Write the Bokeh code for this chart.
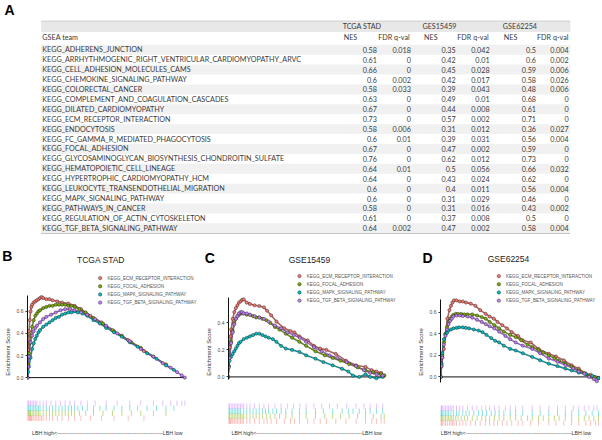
import numpy as np
from bokeh.plotting import figure
from bokeh.models import Range1d, LinearAxis, FixedTicker, PrintfTickFormatter
from bokeh.layouts import column, row
from bokeh.embed import file_html
from bokeh.resources import INLINE
from bokeh.core.properties import value

# ---------------- table data ----------------
pathways = [
    "KEGG_ADHERENS_JUNCTION",
    "KEGG_ARRHYTHMOGENIC_RIGHT_VENTRICULAR_CARDIOMYOPATHY_ARVC",
    "KEGG_CELL_ADHESION_MOLECULES_CAMS",
    "KEGG_CHEMOKINE_SIGNALING_PATHWAY",
    "KEGG_COLORECTAL_CANCER",
    "KEGG_COMPLEMENT_AND_COAGULATION_CASCADES",
    "KEGG_DILATED_CARDIOMYOPATHY",
    "KEGG_ECM_RECEPTOR_INTERACTION",
    "KEGG_ENDOCYTOSIS",
    "KEGG_FC_GAMMA_R_MEDIATED_PHAGOCYTOSIS",
    "KEGG_FOCAL_ADHESION",
    "KEGG_GLYCOSAMINOGLYCAN_BIOSYNTHESIS_CHONDROITIN_SULFATE",
    "KEGG_HEMATOPOIETIC_CELL_LINEAGE",
    "KEGG_HYPERTROPHIC_CARDIOMYOPATHY_HCM",
    "KEGG_LEUKOCYTE_TRANSENDOTHELIAL_MIGRATION",
    "KEGG_MAPK_SIGNALING_PATHWAY",
    "KEGG_PATHWAYS_IN_CANCER",
    "KEGG_REGULATION_OF_ACTIN_CYTOSKELETON",
    "KEGG_TGF_BETA_SIGNALING_PATHWAY",
]
datasets = ["TCGA STAD", "GES15459", "GSE62254"]
tcga_nes = [0.58, 0.61, 0.66, 0.6, 0.58, 0.63, 0.67, 0.73, 0.58, 0.6, 0.67, 0.76, 0.64, 0.64, 0.6, 0.6, 0.58, 0.61, 0.64]
tcga_fdr = [0.018, 0, 0, 0.002, 0.033, 0, 0, 0, 0.006, 0.01, 0, 0, 0.01, 0, 0, 0, 0, 0, 0.002]
g15459_nes = [0.35, 0.42, 0.45, 0.42, 0.39, 0.49, 0.44, 0.57, 0.31, 0.39, 0.47, 0.62, 0.5, 0.43, 0.4, 0.31, 0.31, 0.37, 0.47]
g15459_fdr = [0.042, 0.01, 0.028, 0.017, 0.043, 0.01, 0.008, 0.002, 0.012, 0.031, 0.002, 0.012, 0.056, 0.024, 0.011, 0.029, 0.016, 0.008, 0.002]
g62254_nes = [0.5, 0.6, 0.59, 0.58, 0.48, 0.68, 0.61, 0.71, 0.36, 0.56, 0.59, 0.73, 0.66, 0.62, 0.56, 0.46, 0.43, 0.5, 0.58]
g62254_fdr = [0.004, 0.002, 0.006, 0.026, 0.006, 0, 0, 0, 0.027, 0.004, 0, 0, 0.032, 0, 0.004, 0, 0.002, 0, 0.004]

# ---------------- GSEA running scores (rank fraction, ES) ----------------
gsea_sets = ["KEGG_ECM_RECEPTOR_INTERACTION", "KEGG_FOCAL_ADHESION",
             "KEGG_MAPK_SIGNALING_PATHWAY", "KEGG_TGF_BETA_SIGNALING_PATHWAY"]
panel_titles = ["TCGA STAD", "GSE15459", "GSE62254"]
panel_letters = ["B", "C", "D"]

# TCGA STAD
tcga_ecm_x = [0.0, 0.005, 0.01, 0.015, 0.02, 0.025, 0.03, 0.04, 0.05, 0.06, 0.07, 0.08, 0.09, 0.1, 0.12, 0.14, 0.16, 0.19, 0.22, 0.26, 0.3, 0.34, 0.4, 0.47, 0.55, 0.64, 0.74]
tcga_ecm_y = [0.0, 0.25, 0.42, 0.52, 0.60, 0.64, 0.66, 0.68, 0.69, 0.70, 0.71, 0.72, 0.73, 0.72, 0.71, 0.71, 0.70, 0.69, 0.68, 0.67, 0.65, 0.62, 0.56, 0.50, 0.42, 0.34, 0.24]
tcga_focal_x = [0.0, 0.005, 0.01, 0.015, 0.02, 0.03, 0.04, 0.05, 0.06, 0.07, 0.08, 0.1, 0.12, 0.14, 0.16, 0.18, 0.2, 0.22, 0.24, 0.26, 0.28, 0.3, 0.33, 0.37, 0.42, 0.48, 0.54, 0.6, 0.66, 0.72, 0.8, 0.88]
tcga_focal_y = [0.0, 0.12, 0.22, 0.31, 0.38, 0.46, 0.52, 0.56, 0.58, 0.60, 0.61, 0.63, 0.64, 0.65, 0.65, 0.66, 0.66, 0.66, 0.66, 0.65, 0.65, 0.64, 0.62, 0.59, 0.54, 0.49, 0.43, 0.38, 0.32, 0.27, 0.19, 0.12]
tcga_mapk_x = [0.0, 0.005, 0.01, 0.02, 0.03, 0.04, 0.05, 0.06, 0.07, 0.08, 0.1, 0.12, 0.14, 0.16, 0.18, 0.2, 0.22, 0.24, 0.26, 0.28, 0.3, 0.32, 0.35, 0.38, 0.42, 0.46, 0.5, 0.55, 0.6, 0.65, 0.7, 0.76, 0.82, 0.88, 0.93]
tcga_mapk_y = [0.0, 0.05, 0.10, 0.18, 0.26, 0.31, 0.35, 0.38, 0.41, 0.43, 0.46, 0.48, 0.50, 0.52, 0.54, 0.55, 0.57, 0.58, 0.59, 0.59, 0.60, 0.59, 0.58, 0.56, 0.52, 0.49, 0.45, 0.41, 0.37, 0.32, 0.28, 0.22, 0.17, 0.11, 0.07]
tcga_tgf_x = [0.0, 0.005, 0.01, 0.02, 0.03, 0.04, 0.05, 0.06, 0.08, 0.1, 0.12, 0.15, 0.18, 0.21, 0.24, 0.27, 0.3, 0.34, 0.38, 0.43, 0.5, 0.57, 0.65, 0.72, 0.8, 0.86, 0.91, 0.95, 0.98, 1.0]
tcga_tgf_y = [0.0, 0.10, 0.19, 0.32, 0.38, 0.42, 0.45, 0.47, 0.50, 0.53, 0.55, 0.57, 0.59, 0.61, 0.62, 0.62, 0.61, 0.59, 0.57, 0.53, 0.47, 0.40, 0.33, 0.26, 0.19, 0.13, 0.09, 0.05, 0.02, 0.0]

# GSE15459
g15_ecm_x = [0.0, 0.005, 0.01, 0.015, 0.02, 0.03, 0.04, 0.05, 0.06, 0.07, 0.08, 0.09, 0.1, 0.12, 0.14, 0.17, 0.2, 0.23, 0.25, 0.276, 0.31, 0.36, 0.4, 0.425, 0.457, 0.51, 0.55, 0.59, 0.63, 0.69, 0.755, 0.82, 0.88, 0.92, 0.95, 0.98, 1.0]
g15_ecm_y = [0.0, 0.12, 0.22, 0.30, 0.35, 0.43, 0.48, 0.51, 0.53, 0.55, 0.56, 0.57, 0.575, 0.55, 0.54, 0.53, 0.525, 0.515, 0.49, 0.456, 0.41, 0.36, 0.34, 0.33, 0.30, 0.27, 0.23, 0.21, 0.20, 0.17, 0.12, 0.086, 0.074, 0.05, 0.04, 0.03, 0.01]
g15_focal_x = [0.0, 0.005, 0.01, 0.02, 0.03, 0.04, 0.05, 0.06, 0.07, 0.08, 0.09, 0.1, 0.12, 0.14, 0.16, 0.18, 0.2, 0.22, 0.245, 0.27, 0.3, 0.33, 0.37, 0.41, 0.457, 0.5, 0.56, 0.62, 0.67, 0.72, 0.775, 0.83, 0.88, 0.93, 0.98, 1.0]
g15_focal_y = [0.0, 0.08, 0.15, 0.26, 0.34, 0.40, 0.43, 0.45, 0.46, 0.47, 0.47, 0.47, 0.46, 0.46, 0.45, 0.44, 0.44, 0.43, 0.42, 0.40, 0.37, 0.35, 0.32, 0.29, 0.26, 0.23, 0.19, 0.16, 0.14, 0.12, 0.095, 0.07, 0.05, 0.035, 0.02, 0.01]
g15_mapk_x = [0.0, 0.005, 0.01, 0.02, 0.03, 0.04, 0.05, 0.06, 0.07, 0.08, 0.1, 0.12, 0.14, 0.16, 0.18, 0.2, 0.22, 0.24, 0.26, 0.287, 0.31, 0.34, 0.37, 0.41, 0.457, 0.5, 0.56, 0.61, 0.67, 0.73, 0.77, 0.8, 0.84, 0.88, 0.91, 0.95, 0.99]
g15_mapk_y = [0.0, 0.08, 0.12, 0.15, 0.17, 0.19, 0.21, 0.23, 0.25, 0.26, 0.28, 0.29, 0.30, 0.31, 0.32, 0.32, 0.31, 0.30, 0.29, 0.28, 0.26, 0.23, 0.21, 0.20, 0.185, 0.16, 0.135, 0.11, 0.086, 0.06, 0.04, 0.01, 0.0, 0.02, 0.0, -0.01, 0.0]
g15_tgf_x = [0.0, 0.005, 0.01, 0.02, 0.03, 0.04, 0.05, 0.06, 0.07, 0.08, 0.09, 0.1, 0.12, 0.14, 0.17, 0.2, 0.23, 0.26, 0.3, 0.34, 0.38, 0.42, 0.46, 0.5, 0.55, 0.6, 0.65, 0.7, 0.76, 0.82, 0.87, 0.91, 0.95, 0.99]
g15_tgf_y = [0.0, 0.07, 0.14, 0.25, 0.33, 0.39, 0.43, 0.45, 0.47, 0.48, 0.48, 0.47, 0.47, 0.46, 0.45, 0.44, 0.43, 0.41, 0.38, 0.36, 0.33, 0.31, 0.29, 0.26, 0.22, 0.19, 0.16, 0.14, 0.11, 0.08, 0.05, 0.03, 0.02, 0.01]

# GSE62254
g62_ecm_x = [0.0, 0.005, 0.01, 0.02, 0.03, 0.042, 0.055, 0.065, 0.074, 0.084, 0.1, 0.12, 0.14, 0.16, 0.19, 0.22, 0.25, 0.285, 0.31, 0.337, 0.36, 0.39, 0.42, 0.45, 0.49, 0.52, 0.57, 0.62, 0.685, 0.73, 0.78, 0.83, 0.875, 0.92, 0.95, 0.98, 1.0]
g62_ecm_y = [0.0, 0.1, 0.18, 0.26, 0.40, 0.54, 0.62, 0.66, 0.69, 0.71, 0.71, 0.70, 0.70, 0.69, 0.68, 0.66, 0.62, 0.585, 0.56, 0.54, 0.51, 0.48, 0.45, 0.415, 0.38, 0.34, 0.32, 0.26, 0.215, 0.19, 0.154, 0.108, 0.077, 0.03, 0.02, 0.0, -0.01]
g62_focal_x = [0.0, 0.005, 0.01, 0.02, 0.03, 0.04, 0.05, 0.06, 0.07, 0.08, 0.095, 0.11, 0.13, 0.15, 0.17, 0.2, 0.23, 0.26, 0.285, 0.31, 0.34, 0.37, 0.4, 0.44, 0.475, 0.51, 0.55, 0.58, 0.62, 0.65, 0.685, 0.72, 0.75, 0.79, 0.83, 0.875, 0.91, 0.94, 0.97, 1.0]
g62_focal_y = [0.0, 0.12, 0.2, 0.32, 0.40, 0.46, 0.51, 0.54, 0.56, 0.575, 0.585, 0.585, 0.585, 0.58, 0.58, 0.58, 0.57, 0.555, 0.54, 0.51, 0.48, 0.45, 0.42, 0.39, 0.37, 0.34, 0.30, 0.277, 0.25, 0.225, 0.2, 0.175, 0.15, 0.123, 0.095, 0.06, 0.035, 0.01, 0.0, -0.01]
g62_mapk_x = [0.0, 0.005, 0.01, 0.02, 0.03, 0.04, 0.05, 0.065, 0.08, 0.1, 0.116, 0.14, 0.16, 0.18, 0.21, 0.24, 0.265, 0.29, 0.32, 0.345, 0.37, 0.4, 0.44, 0.475, 0.52, 0.58, 0.63, 0.685, 0.74, 0.79, 0.83, 0.875, 0.92, 0.96, 1.0]
g62_mapk_y = [0.0, 0.12, 0.22, 0.35, 0.39, 0.41, 0.43, 0.44, 0.45, 0.455, 0.46, 0.46, 0.455, 0.45, 0.44, 0.43, 0.415, 0.39, 0.36, 0.335, 0.32, 0.29, 0.26, 0.245, 0.22, 0.185, 0.155, 0.123, 0.1, 0.077, 0.06, 0.04, 0.025, 0.01, -0.01]
g62_tgf_x = [0.0, 0.005, 0.01, 0.02, 0.03, 0.04, 0.05, 0.06, 0.07, 0.08, 0.1, 0.12, 0.14, 0.17, 0.2, 0.23, 0.26, 0.285, 0.31, 0.34, 0.37, 0.41, 0.44, 0.475, 0.52, 0.58, 0.63, 0.685, 0.74, 0.79, 0.84, 0.875, 0.91, 0.94, 0.97, 0.99]
g62_tgf_y = [0.0, 0.1, 0.18, 0.30, 0.38, 0.44, 0.49, 0.52, 0.54, 0.56, 0.57, 0.57, 0.565, 0.56, 0.55, 0.53, 0.51, 0.49, 0.47, 0.45, 0.42, 0.38, 0.35, 0.32, 0.29, 0.26, 0.22, 0.17, 0.14, 0.11, 0.08, 0.05, 0.03, 0.0, -0.02, -0.04]

es_ticks_b = [0.0, 0.2, 0.4, 0.6]
es_ticks_c = [0.0, 0.2, 0.4]
es_ticks_d = [0.0, 0.2, 0.4, 0.6]

# ---------------- styles / layout (reference-pixel geometry) ----------------
HUES = ["#F8766D", "#7CAE00", "#00BFC4", "#C77CFF"]
DARK = ["#9a4a45", "#4f7000", "#00797d", "#8452aa"]
REF_W, REF_H = 602.0, 440.2
PAGE_W, PAGE_H = 600, 438
KX = PAGE_W / REF_W
KY = PAGE_H / REF_H
TOP_H = int(round(266.0 * KY))
BOT_H = PAGE_H - TOP_H
REF_SPLIT = TOP_H / KY
PANEL_W = [202, 198, 200]
SANS = "Liberation Sans"


def fmt(v):
    return f"{v:g}"


# ---------------- top figure: table (A) + panel headers ----------------
tab = figure(width=PAGE_W, height=TOP_H, x_range=Range1d(0, REF_W * 1.0), y_range=Range1d(REF_SPLIT, 0),
             x_axis_type=None, y_axis_type=None, output_backend="svg",
             toolbar_location=None, min_border=0, outline_line_color=None, title=None)

row_y = 49.5 + 9.97 * np.arange(len(pathways))
T_L, T_R = 40.7, 571.7
even = row_y[::2]
tab.quad(left=T_L, right=T_R, top=even - 5.0, bottom=even + 5.0, fill_color="#f1f1f1", line_color=None)
tab.quad(left=[T_L], right=[T_R], top=[20.7], bottom=[31.6], fill_color="#e8e8e8", line_color=None)
tab.segment(x0=[T_L], y0=[20.7], x1=[T_R], y1=[20.7], line_color="#cfcfcf", line_width=1)
tab.segment(x0=[T_L], y0=[row_y[-1] + 5.2], x1=[T_R], y1=[row_y[-1] + 5.2], line_color="#c4c4c4", line_width=1)

TFONT = value("Lato")
TCOL = "#3a3a3a"
TSIZE = "7.2px"
tab.text(x=[4], y=[10], text=["A"], text_font=value(SANS), text_font_style="bold",
         text_font_size="14px", text_baseline="middle", text_color="#000000")
tab.text(x=[343.3, 423.3, 504.0], y=[26.0] * 3, text=datasets, text_font=TFONT,
         text_font_size=TSIZE, text_baseline="middle", text_color=TCOL)
tab.text(x=[42.0], y=[37.5], text=["GSEA team"], text_font=TFONT, text_font_size=TSIZE,
         text_baseline="middle", text_color=TCOL)
tab.text(x=[344.3, 425.0, 505.0], y=[37.5] * 3, text=["NES"] * 3, text_font=TFONT,
         text_font_size=TSIZE, text_baseline="middle", text_color=TCOL)
tab.text(x=[379.0, 458.3, 538.3], y=[37.5] * 3, text=["FDR q-val"] * 3, text_font=TFONT,
         text_font_size=TSIZE, text_baseline="middle", text_color=TCOL)
tab.text(x=[42.0] * len(pathways), y=row_y, text=pathways, text_font=TFONT,
         text_font_size=TSIZE, text_baseline="middle", text_color=TCOL)
for col_x, vals in [(377.7, tcga_nes), (411.7, tcga_fdr), (456.7, g15459_nes),
                    (490.7, g15459_fdr), (537.3, g62254_nes), (570.0, g62254_fdr)]:
    tab.text(x=[col_x] * len(vals), y=row_y, text=[fmt(v) for v in vals], text_font=TFONT,
             text_font_size=TSIZE, text_align="right", text_baseline="middle", text_color=TCOL)

# panel letters and titles
tab.text(x=[1.7, 205.0, 423.3], y=[257.0, 258.3, 258.3], text=panel_letters, text_font=value(SANS),
         text_font_style="bold", text_font_size="14px", text_baseline="middle", text_color="#000000")
tab.text(x=[100.8, 310.0, 509.7], y=[260.7, 260.5, 260.0], text=panel_titles, text_font=value(SANS),
         text_font_size="8.5px", text_align="center", text_baseline="middle", text_color="#1a1a1a")


# ---------------- panels B, C, D ----------------
def make_panel(w, fig_l, ax0, ax1, y0, k, ticks, bounds, curves, rug_top, leg_x, leg_y0, lbh_x):
    def fx(rx):
        return (rx - ax0) / (ax1 - ax0)

    def fy(ry):
        return (y0 - ry) / k

    fig_r = fig_l + w / KX
    mbl = int(round((ax0 - fig_l) * KX))
    frame_l = fig_l + mbl / KX
    p = figure(width=w, height=BOT_H, x_range=Range1d(fx(frame_l), fx(fig_r)),
               y_range=Range1d(fy(REF_H), fy(REF_SPLIT)),
               x_axis_type=None, y_axis_type=None, output_backend="svg",
               toolbar_location=None, min_border_left=mbl, min_border_right=0,
               min_border_top=0, min_border_bottom=0, outline_line_color=None, title=None)

    ax = LinearAxis(ticker=FixedTicker(ticks=ticks), bounds=bounds,
                    formatter=PrintfTickFormatter(format="%.1f"),
                    axis_label="Enrichment Score")
    ax.axis_line_color = "#111111"
    ax.axis_line_width = 1
    ax.major_tick_line_color = "#333333"
    ax.major_tick_out = 2
    ax.major_tick_in = 0
    ax.minor_tick_line_color = None
    ax.major_label_text_font = SANS
    ax.major_label_text_font_size = "5px"
    ax.major_label_text_color = "#4d4d4d"
    ax.major_label_standoff = 2
    ax.axis_label_text_font = SANS
    ax.axis_label_text_font_size = "6px"
    ax.axis_label_text_font_style = "normal"
    ax.axis_label_text_color = "#333333"
    ax.axis_label_standoff = 3
    p.add_layout(ax, "left")

    # zero line across the ranked list
    p.segment(x0=[0.0], y0=[0.0], x1=[1.0], y1=[0.0], line_color="#111111", line_width=1)

    # rug of hit positions
    for i, (xv, yv) in enumerate(curves):
        top = rug_top + (3 - i) * 5.0
        p.segment(x0=xv, y0=[fy(top)] * len(xv), x1=xv, y1=[fy(top + 5.5)] * len(xv),
                  line_color=HUES[i], line_alpha=0.45, line_width=1)

    # running enrichment scores
    for i, (xv, yv) in enumerate(curves):
        n = min(len(xv), len(yv))
        p.line(xv[:n], yv[:n], line_color=DARK[i], line_width=1.6, line_alpha=0.85)
    for i, (xv, yv) in enumerate(curves):
        n = min(len(xv), len(yv))
        p.scatter(xv[:n], yv[:n], size=3.2, fill_color=HUES[i], line_color="#222222",
                  line_width=0.45)

    # legend
    ly = [fy(leg_y0 + j * 8.2) for j in range(4)]
    p.scatter([fx(leg_x)] * 4, ly, size=3.4, fill_color=HUES, line_color="#222222", line_width=0.45)
    p.text(x=[fx(leg_x + 7.3)] * 4, y=ly, text=gsea_sets, text_font=value(SANS),
           text_font_size="4.5px", text_baseline="middle", text_color="#555555")

    # bottom annotation
    p.text(x=[fx(lbh_x)], y=[fy(435.0)], text=["LBH high<" + "-" * 60 + "LBH low"],
           text_font=value(SANS), text_font_size="5.3px", text_baseline="middle",
           text_color="#333333")
    return p


fig_lefts = [0.0, PANEL_W[0] / KX, (PANEL_W[0] + PANEL_W[1]) / KX]
pB = make_panel(PANEL_W[0], fig_lefts[0], 27.0, 185.0, 379.0, 111.0, es_ticks_b, (0, 0.74),
                [(tcga_ecm_x, tcga_ecm_y), (tcga_focal_x, tcga_focal_y),
                 (tcga_mapk_x, tcga_mapk_y), (tcga_tgf_x, tcga_tgf_y)],
                402.0, 100.0, 279.0, 31.7)
pC = make_panel(PANEL_W[1], fig_lefts[1], 228.3, 385.0, 378.3, 135.75, es_ticks_c, (-0.02, 0.59),
                [(g15_ecm_x, g15_ecm_y), (g15_focal_x, g15_focal_y),
                 (g15_mapk_x, g15_mapk_y), (g15_tgf_x, g15_tgf_y)],
                405.0, 300.0, 277.0, 231.7)
pD = make_panel(PANEL_W[2], fig_lefts[2], 441.7, 600.0, 378.3, 108.3, es_ticks_d, (-0.05, 0.72),
                [(g62_ecm_x, g62_ecm_y), (g62_focal_x, g62_focal_y),
                 (g62_mapk_x, g62_mapk_y), (g62_tgf_x, g62_tgf_y)],
                407.0, 500.0, 277.0, 441.7)

layout = column(tab, row(pB, pC, pD, spacing=0), spacing=0)
open("out.html", "w").write(file_html(layout, INLINE))
